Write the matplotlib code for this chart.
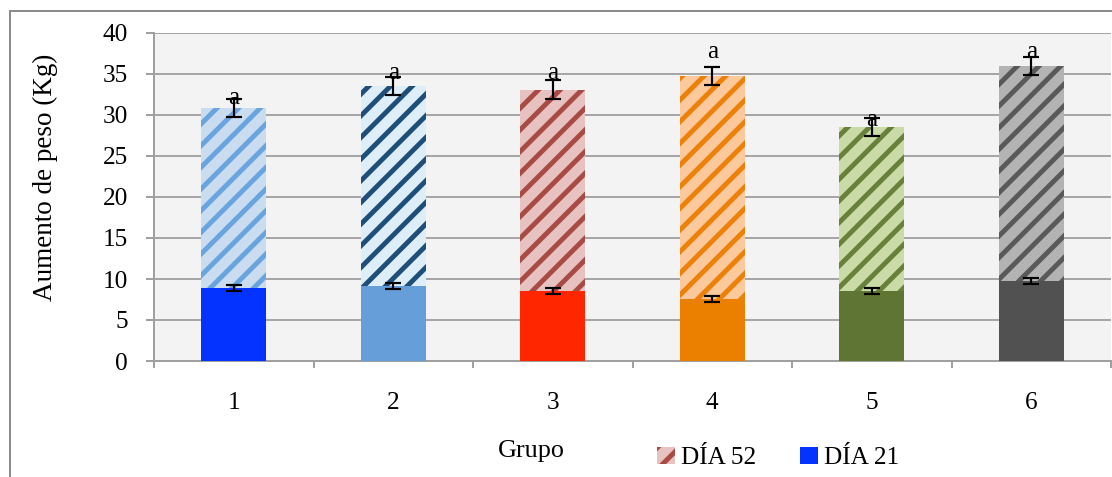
import matplotlib
matplotlib.use("Agg")
import matplotlib.pyplot as plt
from matplotlib.patches import Patch
from matplotlib.lines import Line2D
import numpy as np

# ---- data ----
groups = ["1", "2", "3", "4", "5", "6"]
dia52 = [30.8, 33.5, 33.1, 34.8, 28.5, 36.0]
err52 = [1.1, 1.1, 1.15, 1.1, 1.1, 1.1]
dia21 = [8.9, 9.15, 8.55, 7.6, 8.55, 9.7]
err21 = [0.35, 0.34, 0.34, 0.37, 0.34, 0.37]
sig_letters = ["a", "a", "a", "a", "a", "a"]
sig_y = [32.1, 35.1, 35.1, 37.7, 29.4, 37.7]
yticks = [0, 5, 10, 15, 20, 25, 30, 35, 40]

# ---- styles ----
solid21 = ["#0433ff", "#659ed9", "#ff2600", "#eb7f00", "#5e7533", "#515151"]
bg52 = ["#c9dcf0", "#ddeef8", "#e8c2c1", "#fbc99c", "#cbdba7", "#b3b3b3"]
stripe52 = ["#6aa4df", "#1f4e79", "#a84b45", "#ed8008", "#67803a", "#595959"]

DPI = 130
plt.rcParams["font.family"] = ["Liberation Serif", "DejaVu Serif"]
plt.rcParams["hatch.linewidth"] = 2.7

fig = plt.figure(figsize=(1112 / DPI, 477 / DPI), dpi=DPI)
W, H = 1112, 477
ax = fig.add_axes([154 / W, 1 - 361 / H, (1111 - 154) / W, (361 - 33) / H])
ax.set_facecolor("#f3f3f3")

x = np.arange(1, len(groups) + 1)
bw = 0.41

# outer chart border
fig.add_artist(Line2D([10 / W, 10 / W], [0, 1 - 11 / H], color="#8c8c8c", lw=1.1,
                      transform=fig.transFigure))
fig.add_artist(Line2D([10 / W, 1], [1 - 11 / H, 1 - 11 / H], color="#8c8c8c", lw=1.1,
                      transform=fig.transFigure))

# grid
ax.set_axisbelow(True)
ax.yaxis.grid(True, color="#a6a6a6", lw=1.1)

# Día 52 (hatched) bars
for i in range(len(groups)):
    ax.bar(x[i], dia52[i], width=bw, color=bg52[i], edgecolor=stripe52[i],
           hatch="//", linewidth=0, zorder=2)
# Día 21 solid bars
ax.bar(x, dia21, width=bw, color=solid21, linewidth=0, zorder=3)

# error bars
ax.errorbar(x, dia52, yerr=err52, fmt="none", ecolor="black", elinewidth=1.2,
            capsize=4.4, capthick=1.2, zorder=5)
ax.errorbar(x, dia21, yerr=err21, fmt="none", ecolor="black", elinewidth=1.2,
            capsize=4.4, capthick=1.2, zorder=5)

# significance letters
for xi, yi, s in zip(x, sig_y, sig_letters):
    ax.text(xi, yi, s, ha="center", va="center", fontsize=14, zorder=6)

ax.set_xlim(0.5, 6.5)
ax.set_ylim(0, 40)
ax.set_yticks(yticks)
ax.set_xticks(x)
ax.set_xticklabels(groups)
ax.set_xticks(np.arange(0.5, 7.0, 1.0), minor=True)

for sp in ["top", "right"]:
    ax.spines[sp].set_visible(False)
for sp in ["left", "bottom"]:
    ax.spines[sp].set_color("#a0a0a0")
    ax.spines[sp].set_linewidth(1.1)

ax.tick_params(axis="y", length=4.4, width=1.1, color="#a0a0a0", pad=10, labelsize=14)
ax.tick_params(axis="x", which="major", length=0, pad=17, labelsize=14)
ax.tick_params(axis="x", which="minor", length=3.9, width=1.1, color="#a0a0a0")

fig.text(45 / W, 1 - 177 / H, "Aumento de peso (Kg)", rotation=90, ha="center",
         va="center", fontsize=15)
fig.text(531 / W, 1 - 451 / H, "Grupo", ha="center", va="center", fontsize=14.5)

handles = [
    Patch(facecolor=bg52[2], edgecolor=stripe52[2], hatch="//", linewidth=0, label="DÍA 52"),
    Patch(facecolor=solid21[0], linewidth=0, label="DÍA 21"),
]
fig.legend(handles=handles, loc="center left", bbox_to_anchor=(657 / W, 1 - 458 / H),
           ncol=2, frameon=False, fontsize=14, handlelength=0.7, handleheight=0.7,
           handletextpad=0.25, columnspacing=1.75, borderaxespad=0, borderpad=0)

fig.savefig("out.png", dpi=DPI)
